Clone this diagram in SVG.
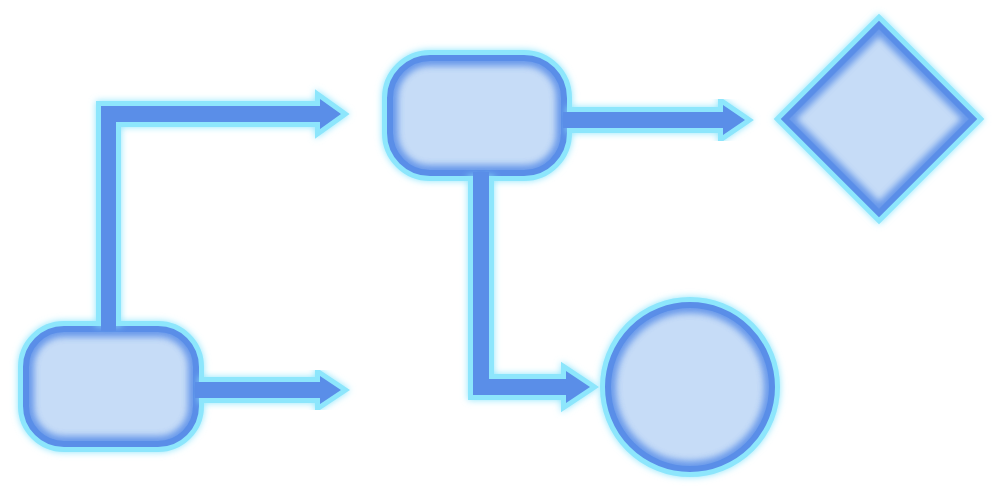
<svg xmlns="http://www.w3.org/2000/svg" width="1000" height="493" viewBox="0 0 1000 493">
  <style>
    .halo { fill: none; stroke: #8de6fc; stroke-width: 16; filter: url(#glow); }
    .body { fill: #c6dcf7; stroke: none; }
    .shade { fill: none; stroke: #5a8ee8; stroke-width: 16; filter: url(#soft); opacity: 0.85; }
    .edge { fill: none; stroke: #5a8ee8; stroke-width: 6; }
    .c-halo { fill: none; stroke: #8de6fc; stroke-width: 10; stroke-linejoin: miter; filter: url(#glow); }
    .c-body { fill: #5a8ee8; stroke: none; }
  </style>
  <defs>
    <filter id="glow" x="-20%" y="-20%" width="140%" height="140%">
      <feGaussianBlur in="SourceGraphic" stdDeviation="3.5" result="b"/>
      <feMerge>
        <feMergeNode in="b"/>
        <feMergeNode in="SourceGraphic"/>
      </feMerge>
    </filter>
    <filter id="soft" x="-20%" y="-20%" width="140%" height="140%">
      <feGaussianBlur stdDeviation="3"/>
    </filter>
    <clipPath id="clip-a"><rect x="26" y="329" width="170" height="115" rx="38"/></clipPath>
    <clipPath id="clip-b"><rect x="390" y="58" width="174" height="115" rx="40"/></clipPath>
    <clipPath id="clip-c"><circle cx="690" cy="387" r="82"/></clipPath>
    <clipPath id="clip-d"><polygon points="879,25 973,119 879,213 785,119"/></clipPath>
  </defs>

  <rect width="1000" height="493" fill="#ffffff"/>

  <g id="node-a">
    <rect class="halo" x="26" y="329" width="170" height="115" rx="38"/>
    <rect class="body" x="26" y="329" width="170" height="115" rx="38"/>
    <rect class="shade" clip-path="url(#clip-a)" x="26" y="329" width="170" height="115" rx="38"/>
    <rect class="edge" x="26" y="329" width="170" height="115" rx="38"/>
  </g>

  <g id="node-b">
    <rect class="halo" x="390" y="58" width="174" height="115" rx="40"/>
    <rect class="body" x="390" y="58" width="174" height="115" rx="40"/>
    <rect class="shade" clip-path="url(#clip-b)" x="390" y="58" width="174" height="115" rx="40"/>
    <rect class="edge" x="390" y="58" width="174" height="115" rx="40"/>
  </g>

  <g id="node-c">
    <circle class="halo" cx="690" cy="387" r="82"/>
    <circle class="body" cx="690" cy="387" r="82"/>
    <circle class="shade" clip-path="url(#clip-c)" cx="690" cy="387" r="82"/>
    <circle class="edge" cx="690" cy="387" r="82"/>
  </g>

  <g id="node-d">
    <polygon class="halo" points="879,25 973,119 879,213 785,119"/>
    <polygon class="body" points="879,25 973,119 879,213 785,119"/>
    <polygon class="shade" clip-path="url(#clip-d)" points="879,25 973,119 879,213 785,119"/>
    <polygon class="edge" points="879,25 973,119 879,213 785,119"/>
  </g>

  <g id="connectors">
    <!-- A up and right -->
    <path class="c-halo" d="M101,326 L101,106 L320,106 L320,99 L341,114 L320,129 L320,122 L116,122 L116,326"/>
    <polygon class="c-body" points="101,331 101,106 320,106 320,99 341,114 320,129 320,122 116,122 116,331"/>
    <!-- A right -->
    <path class="c-halo" d="M199,382 L320,382 L320,376 L341,390 L320,404 L320,398 L199,398"/>
    <polygon class="c-body" points="195,382 320,382 320,376 341,390 320,404 320,398 195,398"/>
    <!-- B right -->
    <path class="c-halo" d="M567,112 L723,112 L723,105 L745,120 L723,135 L723,128 L567,128"/>
    <polygon class="c-body" points="563,112 723,112 723,105 745,120 723,135 723,128 563,128"/>
    <!-- B down and right -->
    <path class="c-halo" d="M473,176 L473,395 L566,395 L566,403 L590,387 L566,371 L566,379 L489,379 L489,176"/>
    <polygon class="c-body" points="473,172 473,395 566,395 566,403 590,387 566,371 566,379 489,379 489,172"/>
  </g>
</svg>
